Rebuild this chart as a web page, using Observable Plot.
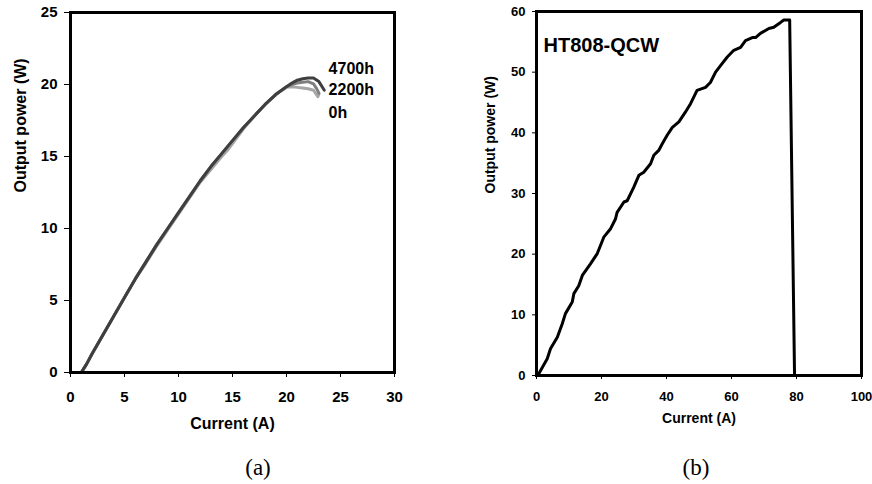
<!DOCTYPE html>
<html>
<head>
<meta charset="utf-8">
<script src="https://cdn.jsdelivr.net/npm/d3@7"></script>
<script src="https://cdn.jsdelivr.net/npm/@observablehq/plot@0.6"></script>
<style>
  html, body { margin: 0; padding: 0; background: #fff; }
  #root { position: relative; width: 872px; height: 484px; background: #fff; overflow: hidden; }
  .panel { position: absolute; top: 0; }
  .cap { position: absolute; font-family: "Liberation Serif", "Times New Roman", serif; font-size: 23px; line-height: 1; transform: translate(-50%, -50%); color: #000; }
</style>
</head>
<body>
<div id="root">
  <div id="pa" class="panel" style="left:0px"></div>
  <div id="pb" class="panel" style="left:440px"></div>
  <div class="cap" style="left:258px; top:467px">(a)</div>
  <div class="cap" style="left:696px; top:467px">(b)</div>
</div>
<script>
// ---------- Panel (a): output power vs current after aging ----------
const xTicksA = [0, 5, 10, 15, 20, 25, 30];
const yTicksA = [0, 5, 10, 15, 20, 25];

const current0h   = [0, 0.5, 1.0, 1.5, 2, 3, 4, 5, 6, 7, 8, 9, 10, 11, 12, 13, 14, 14.5, 15, 16, 17, 18, 19, 20, 20.5, 21, 21.5, 22, 22.5, 22.9, 23.0];
const power0h     = [0, 0, 0, 0.6, 1.3, 2.6, 3.9, 5.2, 6.5, 7.6, 8.8, 9.9, 11.0, 12.1, 13.2, 14.1, 15.0, 15.4, 15.9, 16.9, 17.8, 18.6, 19.3, 19.8, 19.85, 19.8, 19.75, 19.7, 19.6, 19.15, 19.35];

const current2200h = [0, 0.5, 1.0, 1.5, 2, 3, 4, 5, 6, 7, 8, 9, 10, 11, 12, 13, 14, 15, 16, 17, 18, 19, 20, 20.5, 21, 21.5, 22, 22.5, 22.8, 23.0];
const power2200h   = [0, 0, 0, 0.6, 1.3, 2.6, 3.9, 5.2, 6.5, 7.7, 8.9, 10.0, 11.1, 12.2, 13.3, 14.3, 15.2, 16.1, 17.0, 17.8, 18.6, 19.3, 19.85, 20.0, 20.1, 20.15, 20.2, 20.05, 19.7, 19.4];

const current4700h = [0, 0.5, 1.0, 1.5, 2, 3, 4, 5, 6, 7, 8, 9, 10, 11, 12, 13, 14, 15, 16, 17, 18, 19, 20, 20.5, 21, 21.5, 22, 22.5, 23.0, 23.5];
const power4700h   = [0, 0, 0, 0.6, 1.3, 2.6, 3.9, 5.2, 6.5, 7.7, 8.9, 10.0, 11.1, 12.2, 13.3, 14.3, 15.2, 16.1, 17.0, 17.8, 18.6, 19.3, 19.85, 20.1, 20.3, 20.4, 20.45, 20.45, 20.2, 19.6];

const seriesNames  = ["0h", "2200h", "4700h"];
const seriesColors = ["#a6a6a6", "#7f7f7f", "#3f3f3f"];
const labelCurrent = [23.9, 23.9, 23.9];
const labelPower   = [18.0, 19.6, 21.1];

// ---------- Panel (b): HT808-QCW ----------
const xTicksB = [0, 20, 40, 60, 80, 100];
const yTicksB = [0, 10, 20, 30, 40, 50, 60];
const currentQCW = [0.4, 3.3, 4.3, 6.4, 7.9, 8.9, 11.0, 11.5, 13.0, 14.1, 16.6, 18.7, 20.7, 22.8, 24.3, 24.8, 26.9, 27.9, 29.9, 31.5, 33.0, 35.1, 36.1, 37.6, 38.7, 40.2, 41.8, 43.8, 45.8, 47.4, 49.4, 52.0, 53.5, 55.1, 57.1, 58.7, 60.7, 62.8, 64.3, 66.4, 67.4, 68.9, 71.5, 73.0, 75.1, 76.1, 77.6, 77.9, 79.4];
const powerQCW   = [0, 2.75, 4.4, 6.3, 8.5, 10.2, 12.1, 13.5, 14.8, 16.5, 18.4, 20.1, 22.8, 24.2, 25.8, 26.9, 28.6, 28.8, 31.0, 33.0, 33.5, 34.9, 36.3, 37.1, 38.2, 39.6, 40.9, 41.8, 43.4, 44.8, 47.0, 47.5, 48.3, 50.0, 51.4, 52.5, 53.6, 54.1, 55.2, 55.7, 55.7, 56.4, 57.2, 57.4, 58.2, 58.6, 58.6, 58.6, 0];
const deviceName = "HT808-QCW";

// ---------- build tables ----------
const curvesA = [];
[[current0h, power0h], [current2200h, power2200h], [current4700h, power4700h]].forEach(([xs, ys], k) => {
  xs.forEach((x, i) => curvesA.push({series: seriesNames[k], current: x, power: ys[i]}));
});
const labelsA = seriesNames.map((s, i) => ({series: s, current: labelCurrent[i], power: labelPower[i]}));
const curveB = currentQCW.map((x, i) => ({current: x, power: powerQCW[i]}));

const fontFam = "'Liberation Sans', Arial, Helvetica, sans-serif";

const plotA = Plot.plot({
  width: 430, height: 440,
  marginLeft: 70, marginRight: 36, marginTop: 12, marginBottom: 68,
  style: {fontFamily: fontFam, fontWeight: "bold", background: "white", color: "black", overflow: "visible"},
  x: {domain: [0, 30]},
  y: {domain: [0, 25]},
  color: {domain: seriesNames, range: seriesColors},
  marks: [
    Plot.axisX({ticks: xTicksA, tickSize: 5, tickPadding: 14, fontSize: 15, fontWeight: "bold", label: null}),
    Plot.axisY({ticks: yTicksA, tickSize: 6, tickPadding: 7, fontSize: 15, fontWeight: "bold", label: null}),
    Plot.line(curvesA, {x: "current", y: "power", z: "series", stroke: "series", strokeWidth: 3, curve: "linear"}),
    Plot.frame({stroke: "black", strokeWidth: 3}),
    Plot.text(labelsA, {x: "current", y: "power", text: "series", textAnchor: "start", fontSize: 16, fontWeight: "bold", fill: "black"}),
    Plot.text(["Current (A)"], {text: d => d, frameAnchor: "bottom", dy: 56, fontSize: 16, fontWeight: "bold"}),
    Plot.text(["Output power (W)"], {text: d => d, frameAnchor: "left", dx: -50, rotate: -90, fontSize: 16, fontWeight: "bold"})
  ]
});
document.getElementById("pa").appendChild(plotA);

const plotB = Plot.plot({
  width: 432, height: 440,
  marginLeft: 96, marginRight: 11, marginTop: 11, marginBottom: 65,
  style: {fontFamily: fontFam, fontWeight: "bold", background: "white", color: "black", overflow: "visible"},
  x: {domain: [0, 100]},
  y: {domain: [0, 60]},
  marks: [
    Plot.axisX({ticks: xTicksB, tickSize: 4, tickPadding: 12, fontSize: 13, fontWeight: "bold", label: null}),
    Plot.axisY({ticks: yTicksB, tickSize: 4, tickPadding: 7, fontSize: 13, fontWeight: "bold", label: null}),
    Plot.line(curveB, {x: "current", y: "power", stroke: "black", strokeWidth: 3}),
    Plot.frame({stroke: "black", strokeWidth: 3}),
    Plot.text([deviceName], {text: d => d, frameAnchor: "top-left", dx: 7, dy: 26, textAnchor: "start", fontSize: 20, fontWeight: "bold"}),
    Plot.text(["Current (A)"], {text: d => d, frameAnchor: "bottom", dy: 47, fontSize: 14, fontWeight: "bold"}),
    Plot.text(["Output power (W)"], {text: d => d, frameAnchor: "left", dx: -46, rotate: -90, fontSize: 14, fontWeight: "bold"})
  ]
});
document.getElementById("pb").appendChild(plotB);

// force bold on every text element (tick labels included)
d3.selectAll("#root svg text").style("font-weight", "bold").style("font-family", fontFam);
</script>
</body>
</html>
